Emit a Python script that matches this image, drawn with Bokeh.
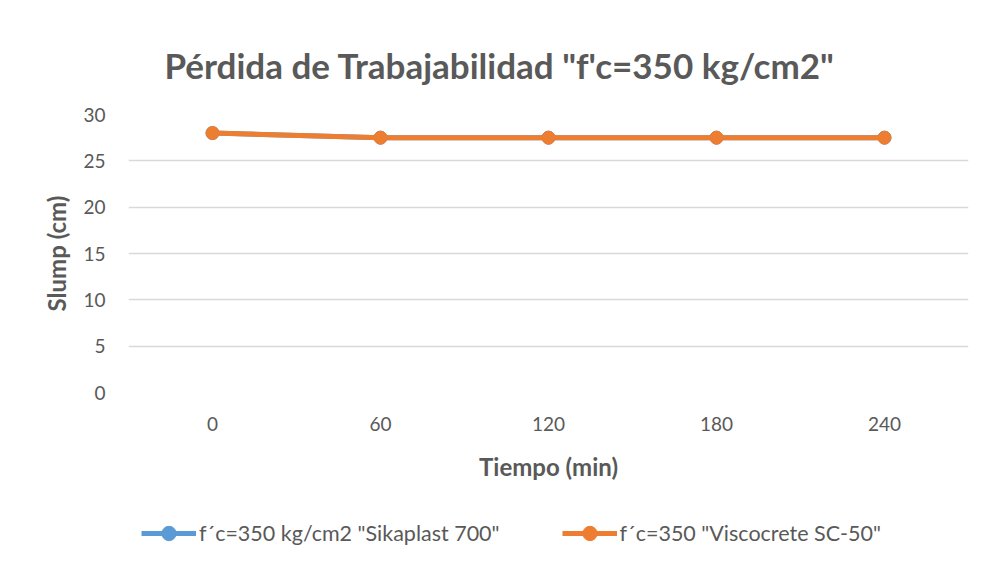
from bokeh.plotting import figure
from bokeh.models import FactorRange, Range1d, SingleIntervalTicker, Legend, LegendItem
from bokeh.layouts import column
from bokeh.embed import file_html
from bokeh.resources import INLINE

# Data
tiempos = ["0", "60", "120", "180", "240"]
sikaplast = [28, 27.5, 27.5, 27.5, 27.5]
viscocrete = [28, 27.5, 27.5, 27.5, 27.5]
title_text = 'Pérdida de Trabajabilidad "f\'c=350 kg/cm2"'
name1 = 'f\u00b4c=350 kg/cm2 "Sikaplast 700"'
name2 = 'f\u00b4c=350 "Viscocrete SC-50"'

TXT = "#595959"
GRID = "#d9d9d9"
BLUE = "#5B9BD5"
ORANGE = "#ED7D31"
FONT = "Lato"

p = figure(
    width=976, height=507,
    x_range=FactorRange(factors=tiempos, range_padding=0),
    y_range=Range1d(0, 30),
    output_backend="svg", toolbar_location=None,
    min_border_left=128, min_border_right=8,
    min_border_top=114, min_border_bottom=115,
)

p.title.text = title_text
p.title.text_font = FONT
p.title.text_font_size = "35px"
p.title.text_font_style = "bold"
p.title.text_color = TXT
p.title.align = "left"
p.title.offset = 36
p.title.standoff = 58

p.outline_line_color = None
p.xgrid.grid_line_color = None
p.ygrid.grid_line_color = GRID
p.ygrid.grid_line_width = 1.5
p.yaxis.ticker = SingleIntervalTicker(interval=5)

for ax in (p.xaxis[0], p.yaxis[0]):
    ax.axis_line_color = None
    ax.major_tick_line_color = None
    ax.minor_tick_line_color = None
    ax.major_tick_out = 0
    ax.major_tick_in = 0
    ax.minor_tick_out = 0
    ax.minor_tick_in = 0
    ax.major_label_text_font = FONT
    ax.major_label_text_font_size = "19px"
    ax.major_label_text_color = TXT
    ax.axis_label_text_font = FONT
    ax.axis_label_text_font_size = "24px"
    ax.axis_label_text_font_style = "bold"
    ax.axis_label_text_color = TXT

p.xaxis.axis_label = "Tiempo (min)"
p.yaxis.axis_label = "Slump (cm)"
p.xaxis.major_label_standoff = 24
p.yaxis.major_label_standoff = 23
p.xaxis.axis_label_standoff = 18
p.yaxis.axis_label_standoff = 9

l1 = p.line(tiempos, sikaplast, line_color=BLUE, line_width=5)
s1 = p.scatter(tiempos, sikaplast, size=13, fill_color=BLUE, line_color=BLUE)
l2 = p.line(tiempos, viscocrete, line_color=ORANGE, line_width=5)
s2 = p.scatter(tiempos, viscocrete, size=13, fill_color=ORANGE, line_color=ORANGE)

# Legend strip below the chart (its own small figure)
q = figure(
    width=976, height=48,
    x_range=FactorRange(factors=tiempos, range_padding=0),
    y_range=Range1d(0, 30),
    output_backend="svg", toolbar_location=None,
    min_border=0,
)
q.xaxis.visible = False
q.yaxis.visible = False
q.grid.grid_line_color = None
q.outline_line_color = None
ql1 = q.line(tiempos, sikaplast, line_color=BLUE, line_width=5, visible=False)
qs1 = q.scatter(tiempos, sikaplast, size=13, fill_color=BLUE, line_color=BLUE, visible=False)
ql2 = q.line(tiempos, viscocrete, line_color=ORANGE, line_width=5, visible=False)
qs2 = q.scatter(tiempos, viscocrete, size=13, fill_color=ORANGE, line_color=ORANGE, visible=False)

legend = Legend(items=[LegendItem(label=name1, renderers=[ql1, qs1]),
                       LegendItem(label=name2, renderers=[ql2, qs2])],
                location=(13, 4), orientation="horizontal")
legend.padding = 0
legend.margin = 0
legend.border_line_color = None
legend.background_fill_alpha = 0
legend.glyph_width = 55
legend.glyph_height = 36
legend.label_standoff = 3
legend.spacing = 62
legend.label_text_font = FONT
legend.label_text_font_size = "21.5px"
legend.label_text_color = TXT
q.add_layout(legend, "center")

layout = column(p, q, spacing=0)
open("out.html", "w").write(file_html(layout, INLINE))
